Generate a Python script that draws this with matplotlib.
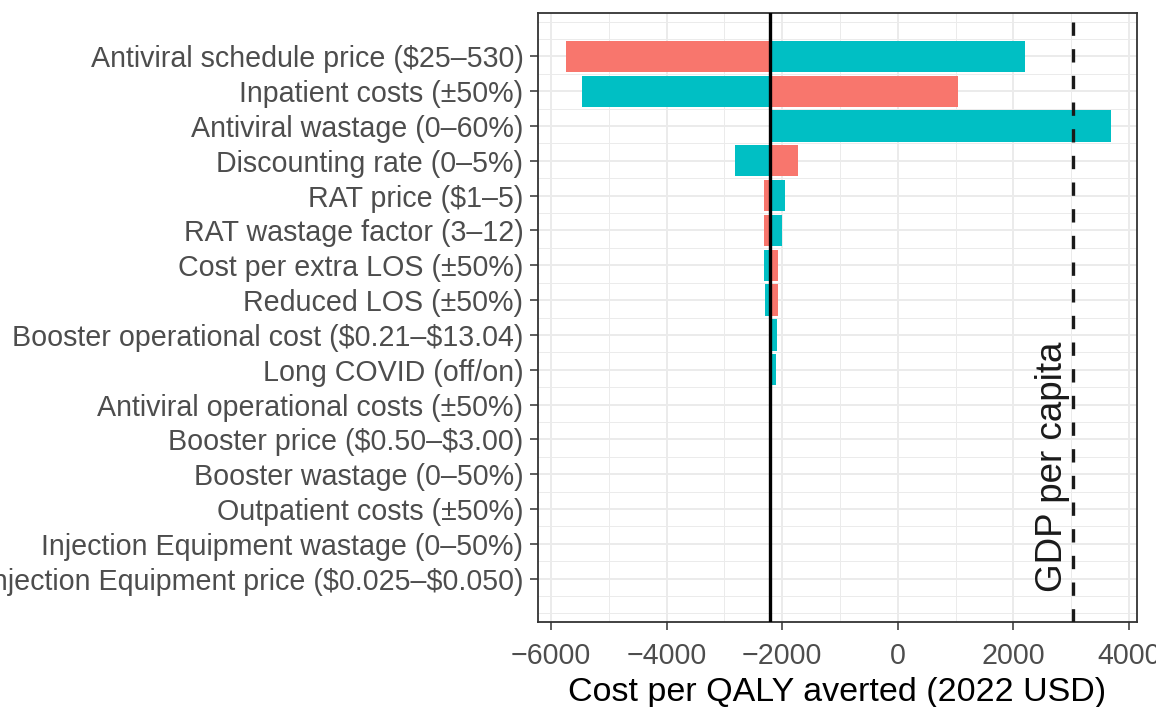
import matplotlib.pyplot as plt
import numpy as np

plt.rcParams['font.family'] = ['Liberation Sans', 'DejaVu Sans']

# tornado data (top to bottom)
params = ['Antiviral schedule price (\\$25–530)', 'Inpatient costs (±50%)',
          'Antiviral wastage (0–60%)', 'Discounting rate (0–5%)',
          'RAT price (\\$1–5)', 'RAT wastage factor (3–12)',
          'Cost per extra LOS (±50%)', 'Reduced LOS (±50%)',
          'Booster operational cost (\\$0.21–\\$13.04)', 'Long COVID (off/on)',
          'Antiviral operational costs (±50%)', 'Booster price (\\$0.50–\\$3.00)',
          'Booster wastage (0–50%)', 'Outpatient costs (±50%)',
          'Injection Equipment wastage (0–50%)',
          'Injection Equipment price (\\$0.025–\\$0.050)']
base = -2205
low_val = [-5739, 1039, -2205, -1725, -2318, -2309, -2078, -2078,
           -2215, -2215, -2205, -2205, -2205, -2205, -2205, -2205]
high_val = [2196, -5456, 3684, -2823, -1945, -2002, -2309, -2304,
            -2090, -2101, -2205, -2205, -2205, -2205, -2205, -2205]
gdp = 3026

red = '#F8766D'
teal = '#00BFC4'

fig = plt.figure(figsize=(11.56, 7.07), dpi=100)
ax = fig.add_axes([538/1156, 1-622/707, (1137-538)/1156, (622-13)/707])

y = np.arange(1, len(params) + 1)
low = np.array(low_val)
high = np.array(high_val)
ax.barh(y, low - base, left=base, height=0.9, color=red, zorder=2)
ax.barh(y, high - base, left=base, height=0.9, color=teal, zorder=2)

ax.axvline(base, color='black', lw=2.4, zorder=3)
ax.axvline(gdp, color='#1a1a1a', lw=2.4, ls=(0, (4, 4)), zorder=3)
ax.annotate('GDP per capita', xy=(gdp, 12.8), xytext=(-8, 0),
            textcoords='offset points', rotation=90, ha='center',
            va='baseline', rotation_mode='anchor', fontsize=26.5,
            color='#1a1a1a')

ax.set_xlim(-6224, 4140)
ax.set_ylim(17.245, -0.245)
ax.set_yticks(y)
ax.set_yticklabels(params)
ax.set_xticks([-6000, -4000, -2000, 0, 2000, 4000])
ax.set_xticks(np.arange(-6000, 4001, 1000), minor=True)
ax.set_yticks(np.arange(0, 17.5, 0.5), minor=True)

ax.grid(which='major', color='#EBEBEB', lw=1.4, zorder=0)
ax.grid(which='minor', color='#EBEBEB', lw=0.7, zorder=0)
ax.set_axisbelow(True)
ax.tick_params(which='minor', length=0)
ax.tick_params(which='major', length=5.5, width=1.1, color='#333333',
               labelcolor='#4D4D4D', labelsize=20.6)
ax.tick_params(axis='y', pad=5)
ax.tick_params(axis='x', pad=9)
for s in ax.spines.values():
    s.set_color('#333333')
    s.set_linewidth(1.3)

ax.set_xlabel('Cost per QALY averted (2022 USD)', fontsize=24.5,
              color='black', labelpad=5)

fig.savefig('out.png', dpi=100)
